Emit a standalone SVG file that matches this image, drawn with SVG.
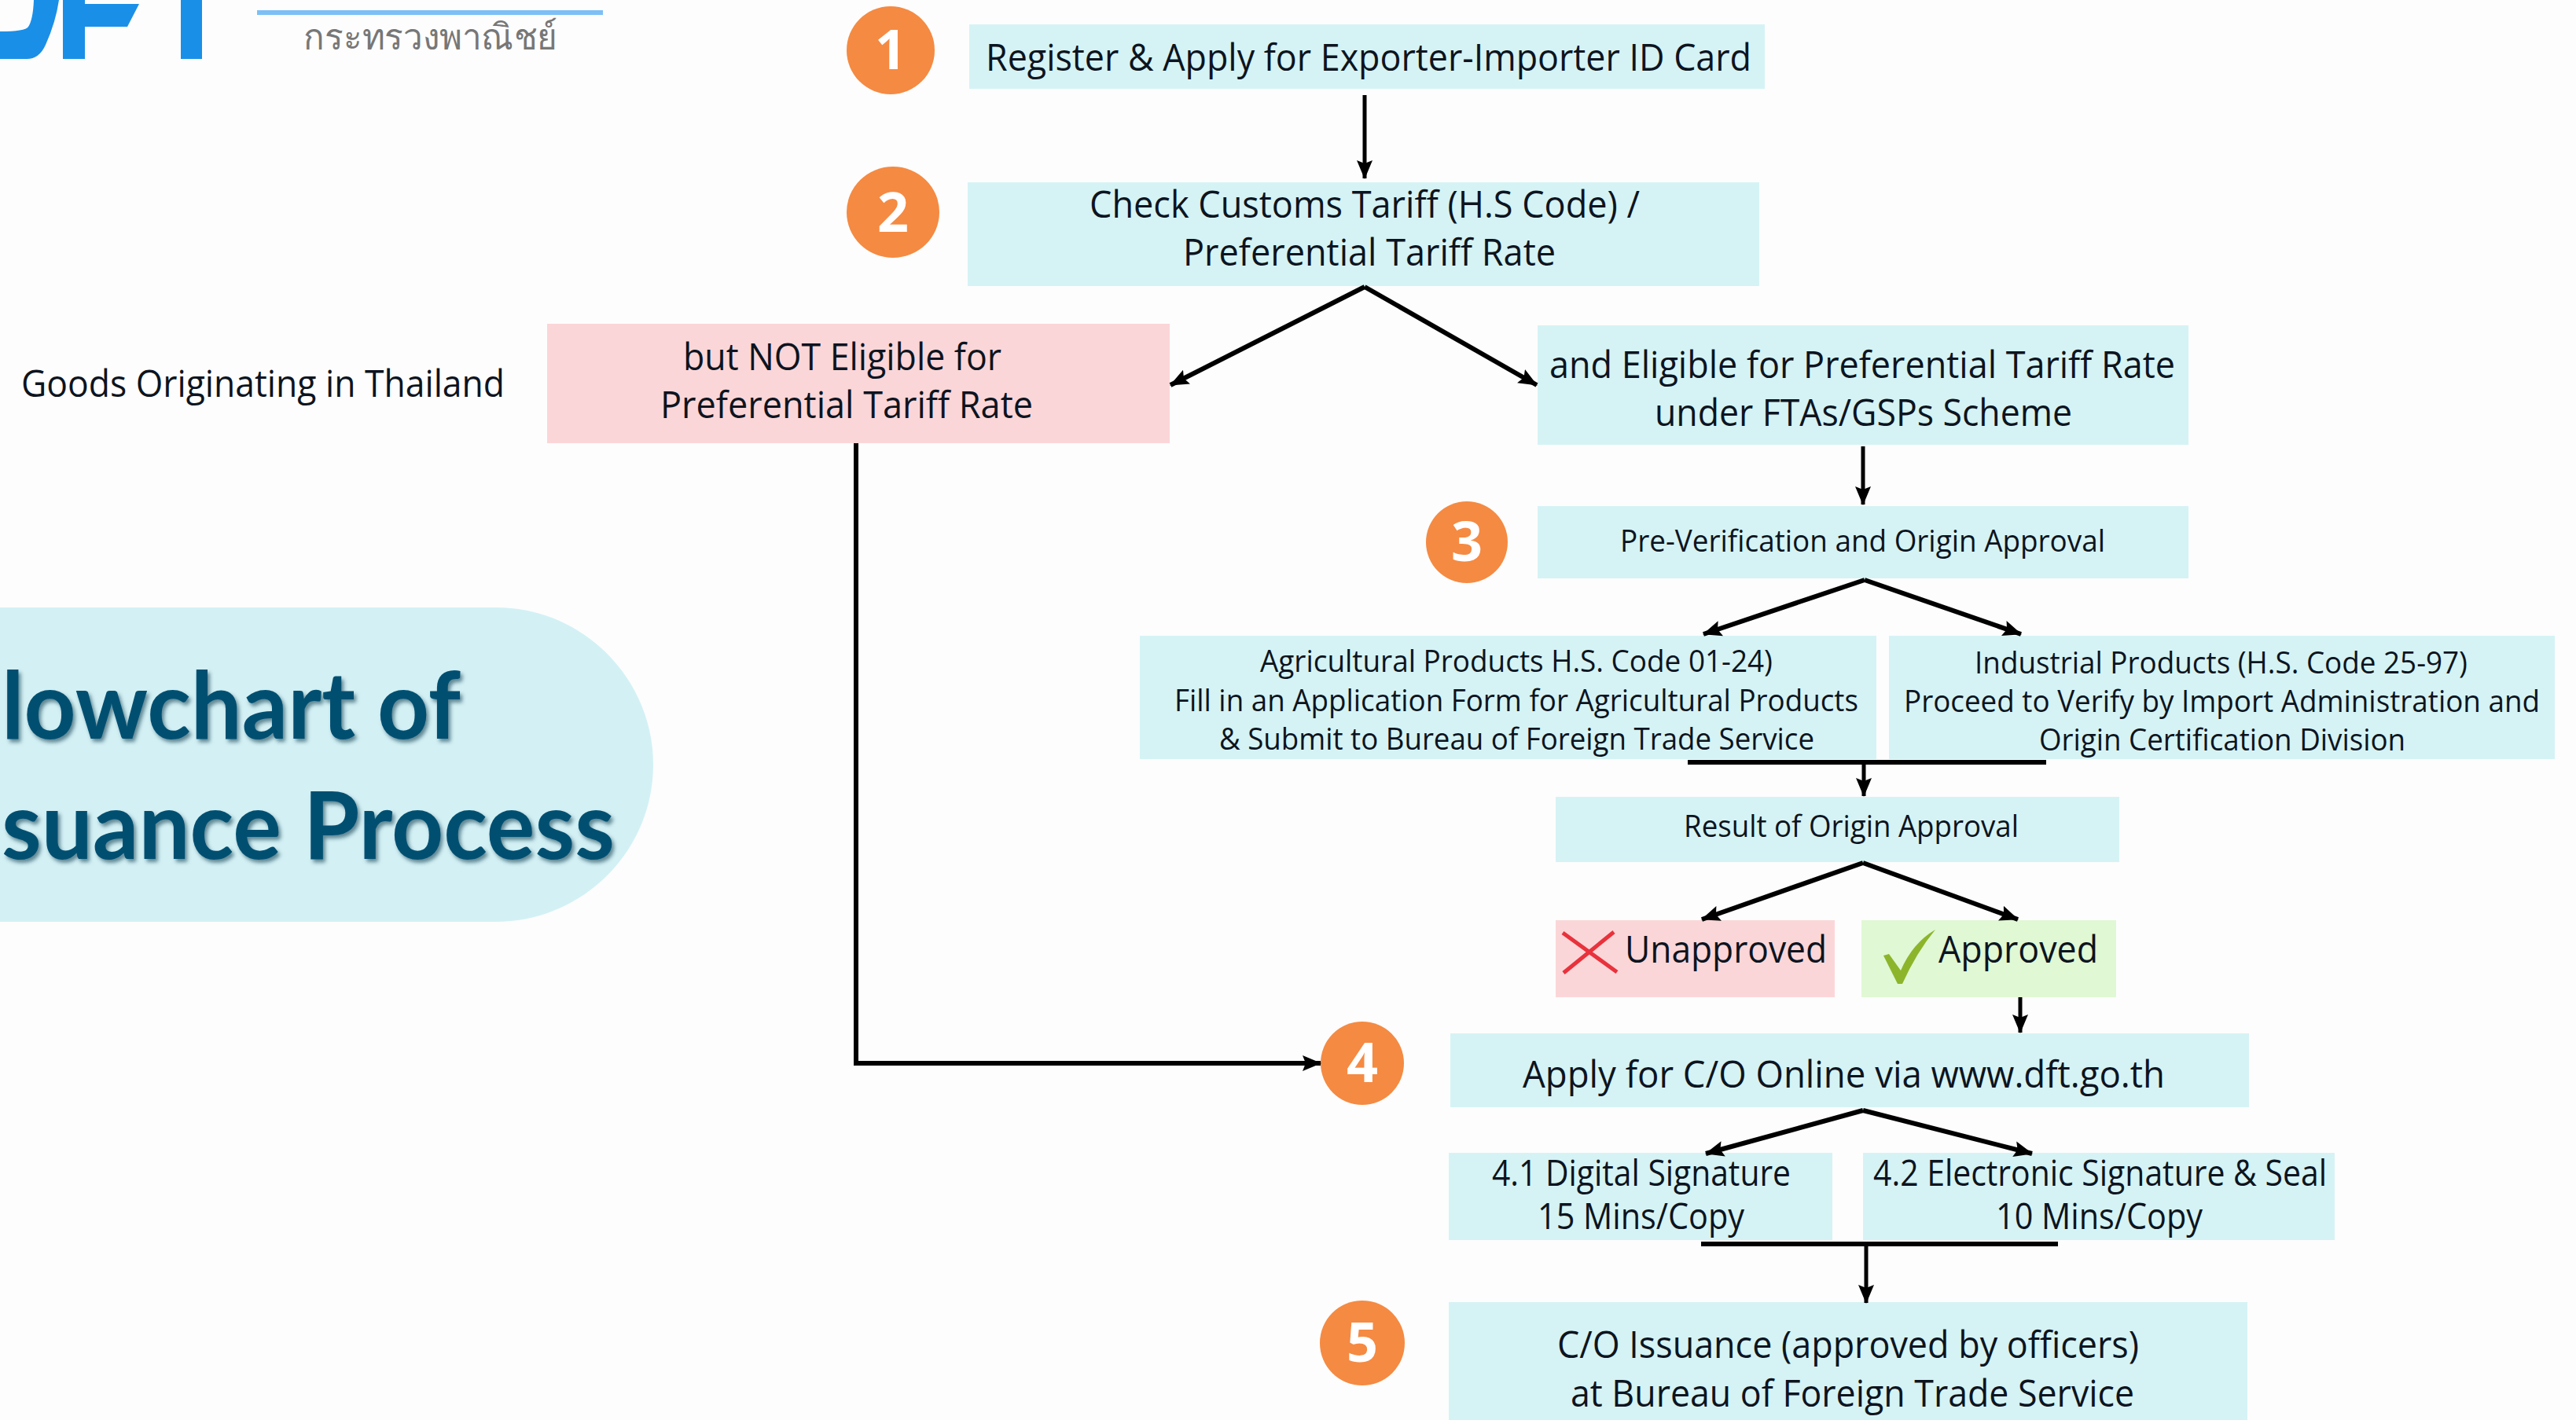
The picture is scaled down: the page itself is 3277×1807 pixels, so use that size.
<svg xmlns="http://www.w3.org/2000/svg" width="3277" height="1807" viewBox="0 0 3277 1807">
<style>
.t{font-family:"Open Sans","Noto Sans",sans-serif;fill:#0d1420;font-size:48px}
.s{font-size:39px}
.m{font-size:45px}
.title{font-family:Lato,"Open Sans",sans-serif;font-weight:700;font-size:118px;fill:#004f71;filter:url(#shadow)}
.box{fill:#d5f3f5}
.red{fill:#fbd6d8}
.grn{fill:#e0f8d4}
.num{fill:#f58a42}
.n{font-family:"Open Sans","Noto Sans",sans-serif;font-weight:700;font-size:70px;fill:#fff;text-anchor:middle}
#connectors path{fill:none;stroke:#000;stroke-width:5}
#connectors .th{stroke-width:6}
</style>
<defs>
<marker id="a" markerUnits="userSpaceOnUse" markerWidth="26" markerHeight="22" refX="23" refY="11" orient="auto"><path d="M0 1 L24 11 L0 21 L4 11 Z" fill="#000"/></marker>
<filter id="shadow" x="-5%" y="-10%" width="110%" height="125%"><feDropShadow dx="3" dy="4" stdDeviation="2.5" flood-color="#003045" flood-opacity=".55"/></filter>
</defs>
<rect width="3277" height="1807" fill="#fdfdfd"/>
<g id="logo">
<path d="M0 75 L34 75 Q50 75 58 57 Q71 28 75 0 L43 0 Q42 25 36 34 Q32 40 0 40 Z" fill="#1a8fe8"/>
<path d="M80 0 H108 V5 H177 L162 34 H108 V75 H80 Z" fill="#1a8fe8"/>
<rect x="230" y="0" width="27" height="75" fill="#1a8fe8"/>
<rect x="327" y="13" width="440" height="6" fill="#7cc0f5"/>
<text x="386" y="63" font-family="Noto Sans,DejaVu Sans,sans-serif" font-size="46" fill="#777" textLength="323" lengthAdjust="spacingAndGlyphs">กระทรวงพาณิชย์</text>
</g>
<g id="title">
<path d="M0 773 H631 C741 773 831 863 831 973 C831 1083 741 1173 631 1173 H0 Z" fill="#d3f1f5"/>
<text class="title" x="2" y="940" textLength="584" lengthAdjust="spacingAndGlyphs">lowchart of</text>
<text class="title" x="2" y="1093" textLength="780" lengthAdjust="spacingAndGlyphs">suance Process</text>
</g>
<g id="label-goods"><text class="t" x="27" y="505" textLength="615" lengthAdjust="spacingAndGlyphs">Goods Originating in Thailand</text></g>
<g id="step1">
<ellipse class="num" cx="1133" cy="64" rx="56" ry="56"/><text class="n" x="1133" y="88">1</text>
<rect class="box" x="1233" y="31" width="1012" height="82"/>
<text class="t" x="1254" y="90" textLength="974" lengthAdjust="spacingAndGlyphs">Register &amp; Apply for Exporter-Importer ID Card</text>
</g>
<g id="step2">
<ellipse class="num" cx="1136" cy="270" rx="59" ry="58"/><text class="n" x="1136" y="295">2</text>
<rect class="box" x="1231" y="232" width="1007" height="132"/>
<text class="t" x="1386" y="277" textLength="700" lengthAdjust="spacingAndGlyphs">Check Customs Tariff (H.S Code) /</text>
<text class="t" x="1505" y="338" textLength="474" lengthAdjust="spacingAndGlyphs">Preferential Tariff Rate</text>
</g>
<g id="not-eligible">
<rect class="red" x="696" y="412" width="792" height="152"/>
<text class="t" x="869" y="471" textLength="405" lengthAdjust="spacingAndGlyphs">but NOT Eligible for</text>
<text class="t" x="840" y="532" textLength="474" lengthAdjust="spacingAndGlyphs">Preferential Tariff Rate</text>
</g>
<g id="eligible">
<rect class="box" x="1956" y="414" width="828" height="152"/>
<text class="t" x="1971" y="481" textLength="796" lengthAdjust="spacingAndGlyphs">and Eligible for Preferential Tariff Rate</text>
<text class="t" x="2105" y="542" textLength="531" lengthAdjust="spacingAndGlyphs">under FTAs/GSPs Scheme</text>
</g>
<g id="step3">
<ellipse class="num" cx="1866" cy="690" rx="52" ry="52"/><text class="n" x="1866" y="714">3</text>
<rect class="box" x="1956" y="644" width="828" height="92"/>
<text class="t s" x="2061" y="702" textLength="617" lengthAdjust="spacingAndGlyphs">Pre-Verification and Origin Approval</text>
</g>
<g id="agricultural">
<rect class="box" x="1450" y="809" width="937" height="157"/>
<text class="t s" x="1603" y="855" textLength="652" lengthAdjust="spacingAndGlyphs">Agricultural Products H.S. Code 01-24)</text>
<text class="t s" x="1494" y="905" textLength="870" lengthAdjust="spacingAndGlyphs">Fill in an Application Form for Agricultural Products</text>
<text class="t s" x="1551" y="954" textLength="757" lengthAdjust="spacingAndGlyphs">&amp; Submit to Bureau of Foreign Trade Service</text>
</g>
<g id="industrial">
<rect class="box" x="2403" y="809" width="847" height="157"/>
<text class="t s" x="2512" y="857" textLength="627" lengthAdjust="spacingAndGlyphs">Industrial Products (H.S. Code 25-97)</text>
<text class="t s" x="2422" y="906" textLength="809" lengthAdjust="spacingAndGlyphs">Proceed to Verify by Import Administration and</text>
<text class="t s" x="2594" y="955" textLength="466" lengthAdjust="spacingAndGlyphs">Origin Certification Division</text>
</g>
<g id="result">
<rect class="box" x="1979" y="1014" width="717" height="83"/>
<text class="t s" x="2142" y="1065" textLength="426" lengthAdjust="spacingAndGlyphs">Result of Origin Approval</text>
</g>
<g id="unapproved">
<rect class="red" x="1979" y="1171" width="355" height="98"/>
<path d="M1988 1187 L2057 1237 M2053 1186 L1989 1238" stroke="#e8323c" stroke-width="5" fill="none"/>
<text class="t" x="2067" y="1225" textLength="257" lengthAdjust="spacingAndGlyphs">Unapproved</text>
</g>
<g id="approved">
<rect class="grn" x="2368" y="1171" width="324" height="98"/>
<path d="M2396 1216 L2403 1214 L2418 1235 Q2433 1200 2462 1183 Q2438 1212 2420 1252 L2414 1252 Z" fill="#8db52b"/>
<text class="t" x="2466" y="1225" textLength="203" lengthAdjust="spacingAndGlyphs">Approved</text>
</g>
<g id="step4">
<ellipse class="num" cx="1733" cy="1353" rx="53" ry="53"/><text class="n" x="1733" y="1377">4</text>
<rect class="box" x="1845" y="1315" width="1016" height="94"/>
<text class="t" x="1937" y="1384" textLength="817" lengthAdjust="spacingAndGlyphs">Apply for C/O Online via www.dft.go.th</text>
</g>
<g id="step41">
<rect class="box" x="1843" y="1467" width="488" height="111"/>
<text class="t m" x="1898" y="1509" textLength="380" lengthAdjust="spacingAndGlyphs">4.1 Digital Signature</text>
<text class="t m" x="1956" y="1564" textLength="263" lengthAdjust="spacingAndGlyphs">15 Mins/Copy</text>
</g>
<g id="step42">
<rect class="box" x="2370" y="1467" width="600" height="111"/>
<text class="t m" x="2383" y="1509" textLength="577" lengthAdjust="spacingAndGlyphs">4.2 Electronic Signature &amp; Seal</text>
<text class="t m" x="2539" y="1564" textLength="263" lengthAdjust="spacingAndGlyphs">10 Mins/Copy</text>
</g>
<g id="step5">
<ellipse class="num" cx="1733" cy="1709" rx="54" ry="54"/><text class="n" x="1733" y="1733">5</text>
<rect class="box" x="1843" y="1657" width="1016" height="150"/>
<text class="t" x="1981" y="1728" textLength="740" lengthAdjust="spacingAndGlyphs">C/O Issuance (approved by officers)</text>
<text class="t" x="1998" y="1790" textLength="717" lengthAdjust="spacingAndGlyphs">at Bureau of Foreign Trade Service</text>
</g>
<g id="connectors">
<path d="M1736 121 V227" marker-end="url(#a)"/>
<path class="th" d="M1736 365 L1489 490" marker-end="url(#a)"/>
<path class="th" d="M1736 365 L1955 490" marker-end="url(#a)"/>
<path d="M2370 568 V642" marker-end="url(#a)"/>
<path class="th" d="M2372 738 L2167 807" marker-end="url(#a)"/>
<path class="th" d="M2372 738 L2571 807" marker-end="url(#a)"/>
<path class="th" d="M2147 970 H2603"/>
<path d="M2371 970 V1013" marker-end="url(#a)"/>
<path class="th" d="M2370 1098 L2165 1170" marker-end="url(#a)"/>
<path class="th" d="M2370 1098 L2567 1170" marker-end="url(#a)"/>
<path d="M2570 1269 V1314" marker-end="url(#a)"/>
<path class="th" d="M2370 1413 L2170 1468" marker-end="url(#a)"/>
<path class="th" d="M2370 1413 L2585 1468" marker-end="url(#a)"/>
<path class="th" d="M2164 1583 H2618"/>
<path d="M2374 1583 V1658" marker-end="url(#a)"/>
<path class="th" d="M1089 564 V1353 H1680" marker-end="url(#a)"/>
</g>
</svg>
